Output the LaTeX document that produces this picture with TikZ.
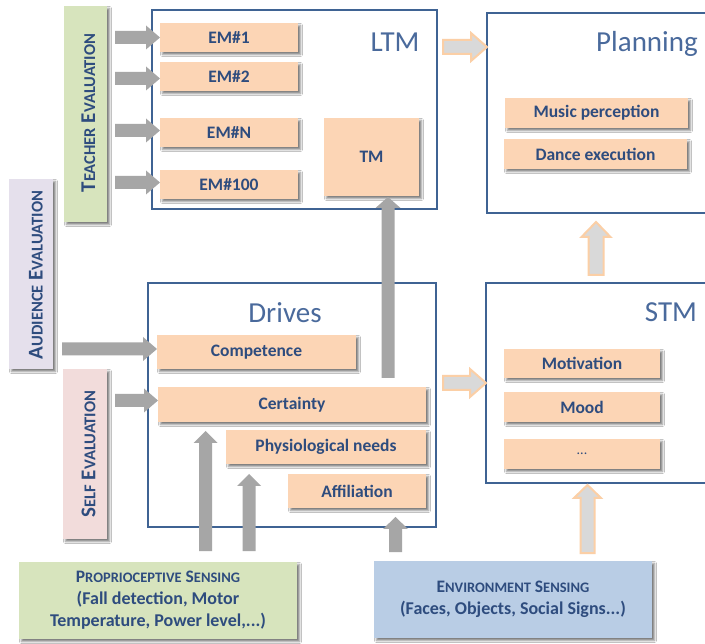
\documentclass[tikz,border=0pt]{standalone}
\usepackage{fontspec}
\setmainfont{Carlito}
\usetikzlibrary{calc,shadows.blur}

\definecolor{frameblue}{HTML}{3F6393}
\definecolor{titleblue}{HTML}{4A6A9C}
\definecolor{txtblue}{HTML}{2E4C7E}
\definecolor{peach}{HTML}{FCD5B5}
\definecolor{arrowgray}{HTML}{A6A6A6}
\definecolor{pale}{HTML}{D9D9D9}
\definecolor{apricot}{HTML}{FBCFA6}
\definecolor{sage}{HTML}{D7E4BD}
\definecolor{lilac}{HTML}{E5E0EC}
\definecolor{blush}{HTML}{F2DCDB}
\definecolor{skyblue}{HTML}{B9CDE5}

% small capitals built from two sizes: #1 = size of the small letters
\newcommand\fakesc[3]{#2{\fontsize{#1}{#1}\selectfont #3}}

% block arrow pointing right: style, from, to, shaft half-width, head half-width, head length
\newcommand\arrowR[6]{%
  \filldraw[#1] let \p1=(#2), \p2=(#3) in
    (\x1,{\y1+#4}) -- ({\x2-#6},{\y1+#4}) -- ({\x2-#6},{\y1+#5}) -- (\x2,\y1)
    -- ({\x2-#6},{\y1-#5}) -- ({\x2-#6},{\y1-#4}) -- (\x1,{\y1-#4}) -- cycle;}
% block arrow pointing up: style, from, to, shaft half-width, head half-width, head length
\newcommand\arrowU[6]{%
  \filldraw[#1] let \p1=(#2), \p2=(#3) in
    ({\x1-#4},\y1) -- ({\x1-#4},{\y2-#6}) -- ({\x1-#5},{\y2-#6}) -- (\x1,\y2)
    -- ({\x1+#5},{\y2-#6}) -- ({\x1+#4},{\y2-#6}) -- ({\x1+#4},\y1) -- cycle;}

\tikzset{
  boxshadow/.style={blur shadow={shadow xshift=2.5pt, shadow yshift=-2.5pt,
      shadow blur radius=2pt, shadow blur steps=4, shadow opacity=50}},
  frame/.style={draw=frameblue, line width=1.6pt, fill=white, inner sep=0pt,
      outer sep=0pt, anchor=north west},
  pbox/.style={fill=peach, inner sep=0pt, outer sep=0pt, text=txtblue,
      anchor=north west, boxshadow,
      font=\fontsize{17.5}{20}\selectfont\bfseries},
  side/.style={inner sep=0pt, outer sep=0pt, anchor=north west, boxshadow},
  sidetext/.style={rotate=90, text=txtblue, inner sep=0pt,
      font=\fontsize{21}{21}\selectfont\bfseries},
  sense/.style={inner sep=0pt, outer sep=0pt, anchor=north west, boxshadow,
      text=txtblue, align=center, font=\fontsize{18}{22}\selectfont\bfseries},
  title/.style={text=titleblue, anchor=base, inner sep=0pt,
      font=\fontsize{29}{30}\selectfont},
  grayarrow/.style={fill=arrowgray, draw=none},
  hollowarrow/.style={fill=pale, draw=apricot, line width=2pt, line join=miter},
}

\begin{document}
\begin{tikzpicture}[x=1pt,y=-1pt]
\useasboundingbox (0,0) rectangle (705,644);
\clip (0,0) rectangle (705,644);
\fill[white] (0,0) rectangle (705,644);

% evaluation side bars
\node[side, fill=sage, minimum width=43, minimum height=216] (teacher) at (64,6) {};
\node[side, fill=lilac, minimum width=44, minimum height=190] (audience) at (9,179) {};
\node[side, fill=blush, minimum width=44, minimum height=170] (self) at (63,369) {};
\node[sidetext] (teacherlbl) at (88.5,113) {\fakesc{16.5}{T}{EACHER} \fakesc{16.5}{E}{VALUATION}};
\node[sidetext] (audiencelbl) at (36,275) {\fakesc{16.5}{A}{UDIENCE} \fakesc{16.5}{E}{VALUATION}};
\node[sidetext] (selflbl) at (88.5,454) {\fakesc{16.5}{S}{ELF} \fakesc{16.5}{E}{VALUATION}};

% main blocks
\node[frame, minimum width=285, minimum height=199] (ltm) at (152,10) {};
\node[frame, minimum width=240, minimum height=200] (planning) at (487,13) {};
\node[frame, minimum width=288, minimum height=244] (drives) at (148,283) {};
\node[frame, minimum width=240, minimum height=200] (stm) at (486,283) {};

\node[title] (ltmtitle) at (395,52) {LTM};
\node[title] (planningtitle) at (647,52) {Planning};
\node[title] (drivestitle) at (285,323) {Drives};
\node[title] (stmtitle) at (671,322) {STM};

% long-term memory contents
\node[pbox, minimum width=138, minimum height=29] (em1) at (160,23) {EM\#1};
\node[pbox, minimum width=138, minimum height=29] (em2) at (160,62) {EM\#2};
\node[pbox, minimum width=138, minimum height=29] (emn) at (160,118) {EM\#N};
\node[pbox, minimum width=138, minimum height=29] (em100) at (160,170) {EM\#100};
\node[pbox, minimum width=95, minimum height=78] (tm) at (324,118) {TM};

% planning contents
\node[pbox, minimum width=183, minimum height=30] (music) at (505,98) {Music perception};
\node[pbox, minimum width=183, minimum height=30] (dance) at (504,139) {Dance execution};

% drives
\node[pbox, minimum width=199, minimum height=34] (competence) at (157,335) {Competence};
\node[pbox, minimum width=268, minimum height=35] (certainty) at (158,387) {Certainty};
\node[pbox, minimum width=200, minimum height=34] (physio) at (226,430) {Physiological needs};
\node[pbox, minimum width=138, minimum height=34] (affiliation) at (288,474) {Affiliation};

% short-term memory
\node[pbox, minimum width=156, minimum height=29] (motivation) at (504,349) {Motivation};
\node[pbox, minimum width=156, minimum height=30] (mood) at (504,392) {Mood};
\node[pbox, minimum width=156, minimum height=30, font=\fontsize{14}{14}\selectfont] (etc) at (504,439) {...};

% sensing inputs
\node[sense, fill=sage, minimum width=278, minimum height=77] (proprio) at (19,562)
  {{\fontsize{17.5}{22}\selectfont\fakesc{14.5}{P}{ROPRIOCEPTIVE} \fakesc{14.5}{S}{ENSING}}\\
   (Fall detection, Motor\\Temperature, Power level,...)};
\node[sense, fill=skyblue, minimum width=278, minimum height=77] (env) at (374,561)
  {{\fontsize{17.5}{22}\selectfont\fakesc{14.5}{E}{NVIRONMENT} \fakesc{14.5}{S}{ENSING}}\\
   (Faces, Objects, Social Signs...)};

% free ends of the connectors
\coordinate (t1) at ($(teacher.east |- em1.west)+(8,0)$);
\coordinate (t2) at ($(teacher.east |- em2.west)+(8,2)$);
\coordinate (t3) at ($(teacher.east |- emn.west)+(8,-2)$);
\coordinate (t4) at ($(teacher.east |- em100.west)+(8,-2)$);
\coordinate (a1) at ($(audience.east |- competence.west)+(9,-3)$);
\coordinate (s1) at ($(self.east |- certainty.west)+(8,-4)$);
\coordinate (c2tm) at (388,378);
\coordinate (p1) at (205.5,551);
\coordinate (p2) at (249,551);
\coordinate (e1) at (395.5,552);
\coordinate (lp) at (443,47);
\coordinate (ds) at (443,383);
\coordinate (sp) at (596,275);
\coordinate (es) at (587.5,553);

% evaluation inputs
\arrowR{grayarrow}{t1}{em1.west}{6.5pt}{12pt}{14pt}
\arrowR{grayarrow}{t2}{em2.west}{6.5pt}{12pt}{14pt}
\arrowR{grayarrow}{t3}{emn.west}{6.5pt}{12pt}{14pt}
\arrowR{grayarrow}{t4}{em100.west}{6.5pt}{12pt}{14pt}
\arrowR{grayarrow}{a1}{competence.west}{6.5pt}{12pt}{14pt}
\arrowR{grayarrow}{s1}{certainty.west}{6.5pt}{12pt}{14pt}

% drives to task memory, sensing to drives
\arrowU{grayarrow}{c2tm}{$(c2tm |- tm.south)+(0,1)$}{6.5pt}{12.5pt}{11pt}
\arrowU{grayarrow}{p1}{$(p1 |- certainty.south)+(0,9)$}{6.5pt}{12pt}{12pt}
\arrowU{grayarrow}{p2}{$(p2 |- physio.south)+(0,10)$}{6.5pt}{12pt}{12pt}
\arrowU{grayarrow}{e1}{$(e1 |- drives.south)+(0,-10)$}{6.5pt}{12.5pt}{12pt}

% flows between memories
\arrowR{hollowarrow}{lp}{lp -| planning.west}{7pt}{14pt}{16pt}
\arrowR{hollowarrow}{ds}{ds -| stm.west}{7pt}{14pt}{16pt}
\arrowU{hollowarrow}{sp}{$(sp |- planning.south)+(0,9)$}{7.5pt}{14.5pt}{15pt}
\arrowU{hollowarrow}{es}{$(es |- stm.south)+(0,2)$}{7pt}{13.5pt}{13pt}
\end{tikzpicture}
\end{document}
